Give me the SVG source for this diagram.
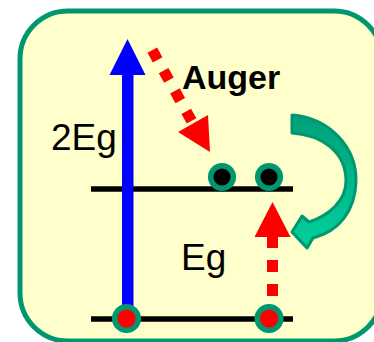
<svg xmlns="http://www.w3.org/2000/svg" width="374" height="342" viewBox="0 0 374 342">
<defs>
<style>
.lvl{stroke:#000;stroke-width:5.5;}
.ringB{fill:#000;stroke:#009670;stroke-width:5.5;}
.ringR{fill:#ff0000;stroke:#009670;stroke-width:5.5;}
.dash{stroke:#ff0000;stroke-width:11;fill:none;}
.t{font-family:"Liberation Sans",Arial,sans-serif;fill:#000;}
</style>
<linearGradient id="tg" x1="0" y1="0" x2="0" y2="1">
<stop offset="0" stop-color="#00a07a"/>
<stop offset="1" stop-color="#00d09c"/>
</linearGradient>
</defs>
<rect id="frame" x="20" y="11" width="362" height="330" rx="48" ry="48" fill="#ffffcc" stroke="#009670" stroke-width="5"/>
<g id="levels">
<line class="lvl" x1="91" y1="189" x2="293" y2="189"/>
<line class="lvl" x1="91" y1="319" x2="293" y2="319"/>
</g>
<g id="connectors">
<g id="blue-arrow">
<rect x="122" y="72" width="11.5" height="238" fill="#0000ff"/>
<polygon points="127.5,39 145.5,75 109.5,75" fill="#0000ff"/>
</g>
<g id="red-diag-arrow">
<line class="dash" x1="152.3" y1="50.2" x2="193" y2="123.5" stroke-dasharray="11 12.3"/>
<polygon points="210,152 178,132 208,115" fill="#ff0000"/>
</g>
<g id="red-up-arrow">
<line class="dash" x1="272.5" y1="296" x2="272.5" y2="236" stroke-dasharray="12 12"/>
<polygon points="272.5,202 290.5,237 254.5,237" fill="#ff0000"/>
</g>
<g id="teal-curved-arrow">
<path d="M292,115 C330,118 357,148 356,182 C355,210 340,231 313,238 L307,248 L292,232 L302,216 L309,222 C330,215 346,200 346,181 C346,152 322,135 292,133 Z" fill="url(#tg)" stroke="#009670" stroke-width="3" stroke-linejoin="round"/>
</g>
</g>
<g id="electron1"><circle class="ringB" cx="222" cy="177" r="11.3"/></g>
<g id="electron2"><circle class="ringB" cx="269" cy="177" r="11.3"/></g>
<g id="hole1"><circle class="ringR" cx="126.5" cy="318.5" r="11.8"/></g>
<g id="hole2"><circle class="ringR" cx="269" cy="318.5" r="11.8"/></g>
<g id="labels">
<text class="t" x="51" y="149.5" font-size="37">2Eg</text>
<text class="t" x="181" y="269.5" font-size="37">Eg</text>
<text class="t" x="182" y="89" font-size="34" font-weight="bold">Auger</text>
</g>
</svg>
